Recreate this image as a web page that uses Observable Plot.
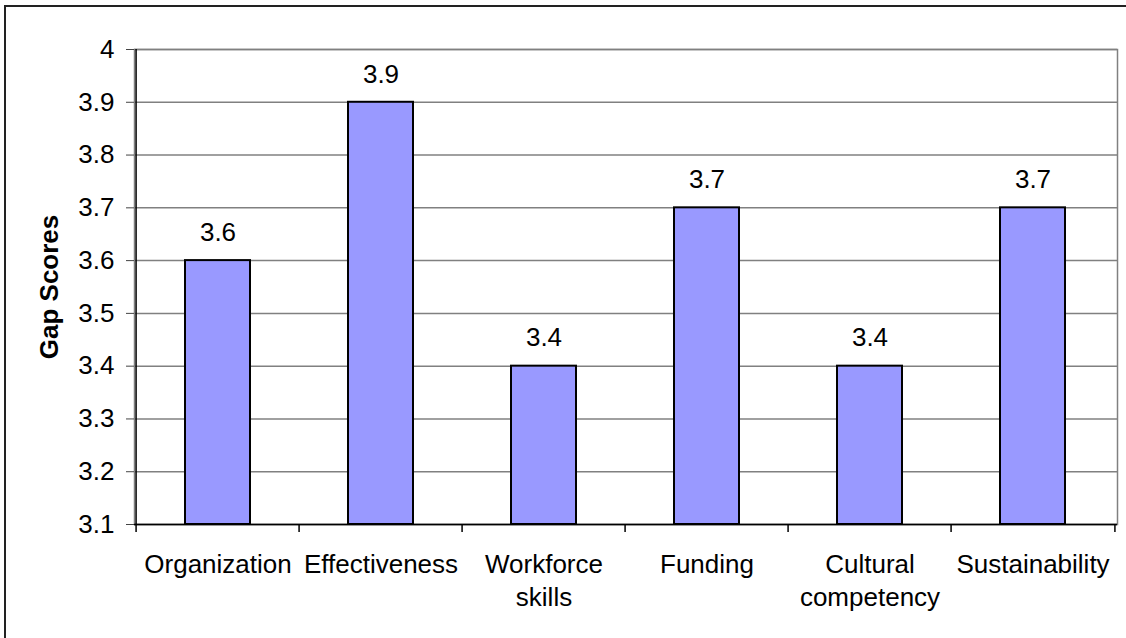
<!DOCTYPE html>
<html><head><meta charset="utf-8">
<script src="https://cdn.jsdelivr.net/npm/d3@7"></script>
<script src="https://cdn.jsdelivr.net/npm/@observablehq/plot@0.6"></script>
<style>
body{margin:0;background:#fff;}
#wrap{position:relative;width:1126px;height:638px;overflow:hidden;}
#wrap svg{position:absolute;left:0;top:0;}
#border{position:absolute;left:4px;top:5px;right:-10px;bottom:-10px;border-top:2px solid #222;border-left:2px solid #222;pointer-events:none;}
</style></head><body><div id="wrap"></div>
<script>
const categories = ["Organization", "Effectiveness", "Workforce\nskills", "Funding", "Cultural\ncompetency", "Sustainability"];
const values = [3.6, 3.9, 3.4, 3.7, 3.4, 3.7];
const yTicks = [3.1, 3.2, 3.3, 3.4, 3.5, 3.6, 3.7, 3.8, 3.9, 4];
const yTickLabels = ["3.1", "3.2", "3.3", "3.4", "3.5", "3.6", "3.7", "3.8", "3.9", "4"];
const yDomain = [3.1, 4];
const yLabel = "Gap Scores";

const W = 1126, H = 638, mL = 134, mR = 9, mT = 49, mB = 114;
const step = (W - mL - mR) / categories.length;
const data = categories.map((c, i) => ({category: c, value: values[i]}));
const fs = 26;

const chart = Plot.plot({
  width: W, height: H,
  marginLeft: mL, marginRight: mR, marginTop: mT, marginBottom: mB,
  style: {fontFamily: "'Liberation Sans', Arial, sans-serif", fontSize: fs + "px", color: "#000", background: "transparent"},
  x: {type: "band", domain: categories, paddingInner: 0.6, paddingOuter: 0.3, label: null},
  y: {domain: yDomain, label: null},
  marks: [
    Plot.gridY(yTicks, {stroke: "#808080", strokeOpacity: 1, strokeWidth: 1.5}),
    Plot.frame({stroke: "#808080", strokeWidth: 1.5}),
    Plot.barY(data, {x: "category", y1: yDomain[0], y2: "value", fill: "#9999ff", stroke: "#000", strokeWidth: 2}),
    Plot.ruleY([yDomain[0]], {stroke: "#000", strokeWidth: 1.5}),
    Plot.ruleX([categories[0]], {x: d => d, dx: -step / 2, y1: yDomain[0], y2: yDomain[1], stroke: "#000", strokeWidth: 1.5}),
    Plot.ruleX(categories, {x: d => d, dx: -step / 2, y1: yDomain[0], y2: yDomain[0], insetBottom: -8, stroke: "#000", strokeWidth: 1.5}),
    Plot.ruleX([categories[categories.length - 1]], {x: d => d, dx: step / 2, y1: yDomain[0], y2: yDomain[0], insetBottom: -8, stroke: "#000", strokeWidth: 1.5}),
    Plot.axisY(yTicks, {tickSize: 8, tickPadding: 12, stroke: "#444", fontSize: fs, tickFormat: d => yTickLabels[yTicks.indexOf(d)], label: null}),
    Plot.axisX({tickSize: 0, tickPadding: 24, fontSize: fs, lineHeight: 1.3, label: null}),
    Plot.text(data, {x: "category", y: "value", text: d => d.value.toFixed(1), dy: -28, fontSize: fs}),
    Plot.text([yLabel], {frameAnchor: "left", textAnchor: "middle", rotate: -90, dx: -85, fontWeight: "bold", fontSize: fs})
  ]
});
const wrap = document.getElementById("wrap");
wrap.appendChild(chart);
const b = document.createElement("div"); b.id = "border"; wrap.appendChild(b);
</script></body></html>
